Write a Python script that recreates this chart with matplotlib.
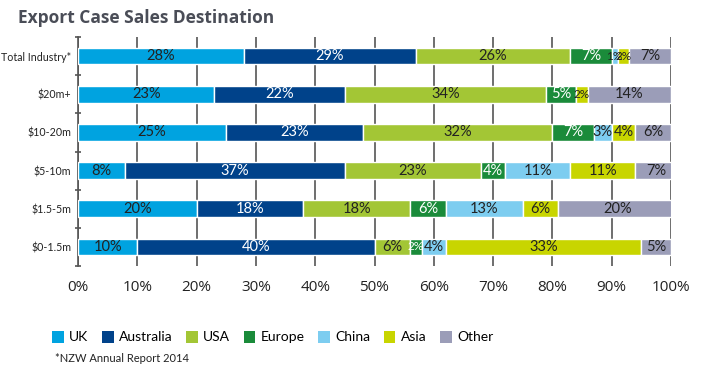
import matplotlib
matplotlib.use("Agg")
import matplotlib.pyplot as plt
import numpy as np
from matplotlib.patches import Patch

categories = ["Total Industry*", "$20m+", "$10-20m", "$5-10m", "$1.5-5m", "$0-1.5m"]
series = ["UK", "Australia", "USA", "Europe", "China", "Asia", "Other"]
uk        = [28, 23, 25, 8, 20, 10]
australia = [29, 22, 23, 37, 18, 40]
usa       = [26, 34, 32, 23, 18, 6]
europe    = [7, 5, 7, 4, 6, 2]
china     = [1, 0, 3, 11, 13, 4]
asia      = [2, 2, 4, 11, 6, 33]
other     = [7, 14, 6, 7, 20, 5]
xticks = [0, 10, 20, 30, 40, 50, 60, 70, 80, 90, 100]

colors = ["#00A3E0", "#00428A", "#A3C635", "#1A8B3A", "#7DCDF0", "#C8D500", "#9B9DB8"]
text_colors = ["#222222", "white", "#222222", "white", "#222222", "#222222", "#222222"]

plt.rcParams['font.family'] = ['Open Sans', 'DejaVu Sans']
NF = ['Lato', 'DejaVu Sans']

fig = plt.figure(figsize=(7.02, 3.73), dpi=100)
ax = fig.add_axes([78/702, 1-266/373, (671-78)/702, (266-37)/373])

data = [uk, australia, usa, europe, china, asia, other]
y = np.arange(len(categories))
left = np.zeros(len(categories))
for s, vals, c, tc in zip(series, data, colors, text_colors):
    vals = np.array(vals, dtype=float)
    bars = ax.barh(y, vals, left=left, height=0.44, color=c, edgecolor="white",
                   linewidth=1.0, label=s, zorder=3)
    for b, yi, v, l in zip(bars, y, vals, left):
        if v > 0:
            t = ax.text(l + v/2, yi, f"{int(v)}%", ha="center", va="center",
                        fontsize=10.5 if v > 2 else 8.5, color=tc, zorder=4, family=NF)
            if v <= 2:
                t.set_clip_path(b)
    left += vals

ax.set_xlim(0, 100)
ax.set_ylim(len(categories)-0.5, -0.5)
ax.set_xticks(xticks)
ax.set_xticklabels([f"{t}%" for t in xticks], fontsize=11, color="#222222")
ax.set_yticks(y)
ax.set_yticklabels(categories, fontsize=9.5, color="#222222", family=NF)
ax.set_yticks(np.arange(-0.5, len(categories), 1), minor=True)
ax.tick_params(axis="y", which="major", length=0, pad=5)
ax.tick_params(axis="y", which="minor", length=5, width=1.2, color="#555555", direction="inout")
ax.tick_params(axis="x", length=0, pad=10)
for sp in ["top", "right", "bottom"]:
    ax.spines[sp].set_visible(False)
ax.spines["left"].set_color("#555555")
ax.spines["left"].set_linewidth(1.2)
ax.xaxis.grid(True, color="#555555", linewidth=1.2, zorder=0)
ax.set_axisbelow(True)

# fit y labels into the left margin
fig.canvas.draw()
r = fig.canvas.get_renderer()
wmax = max(t.get_window_extent(r).width for t in ax.get_yticklabels())
avail = 70.0
if wmax > avail:
    fs = 9.5 * avail / wmax
    for t in ax.get_yticklabels():
        t.set_fontsize(fs)

handles = [Patch(facecolor=c, edgecolor="none") for c in colors]
fig.legend(handles, series, loc="center left", bbox_to_anchor=(52/702, 1-337/373),
           ncol=7, frameon=False, prop={'family': NF, 'size': 10},
           handlelength=0.85, handleheight=1.0,
           handletextpad=0.4, columnspacing=0.95, borderaxespad=0, borderpad=0)

fig.text(18/702, 1-18/373, "Export Case Sales Destination", fontsize=12.5,
         fontweight="bold", color="#4a4d57", va="center", ha="left")
fig.text(55/702, 1-358/373, "*NZW Annual Report 2014", fontsize=8,
         color="#222222", va="center", ha="left", family=NF)

fig.savefig("out.png", dpi=100)
